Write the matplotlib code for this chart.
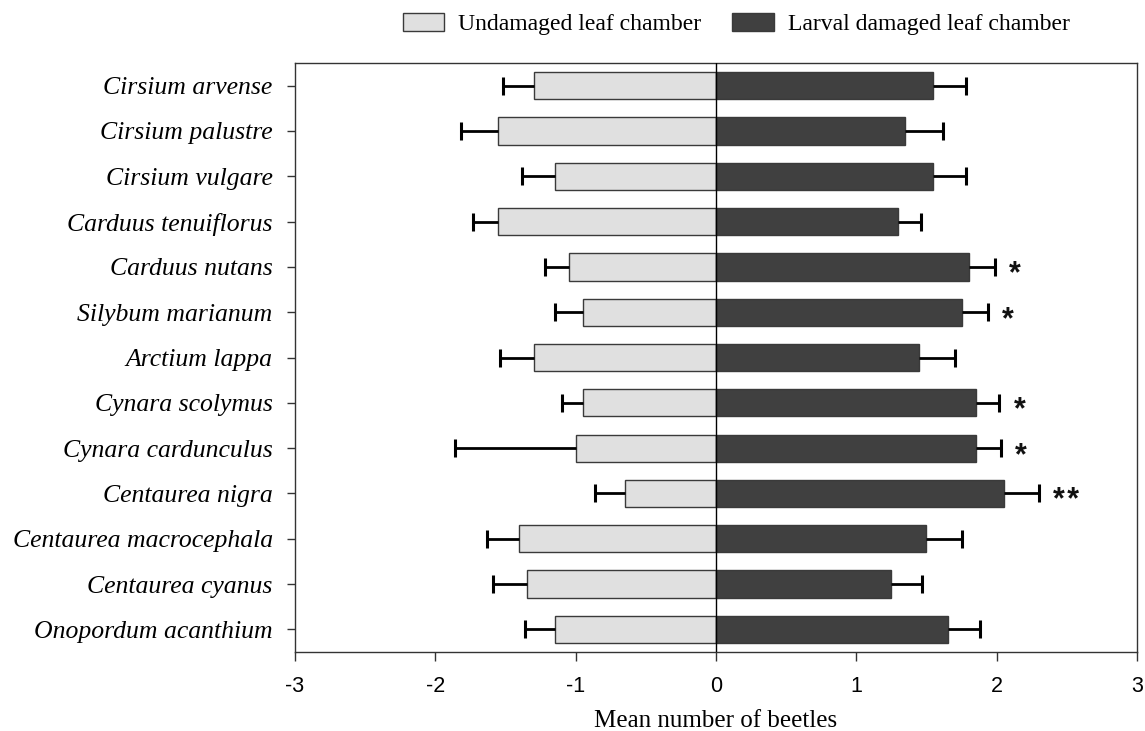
import matplotlib.pyplot as plt
import numpy as np
from matplotlib.patches import Patch

# species, top to bottom
species = ['Cirsium arvense', 'Cirsium palustre', 'Cirsium vulgare',
           'Carduus tenuiflorus', 'Carduus nutans', 'Silybum marianum',
           'Arctium lappa', 'Cynara scolymus', 'Cynara cardunculus',
           'Centaurea nigra', 'Centaurea macrocephala', 'Centaurea cyanus',
           'Onopordum acanthium']

# undamaged chamber (plotted to the left as negatives)
undamaged = [-1.30, -1.55, -1.15, -1.55, -1.05, -0.95, -1.30, -0.95, -1.00,
             -0.65, -1.40, -1.35, -1.15]
undamaged_se = [0.22, 0.27, 0.23, 0.18, 0.17, 0.20, 0.24, 0.15, 0.86,
                0.21, 0.23, 0.24, 0.21]

# larval damaged chamber
damaged = [1.55, 1.35, 1.55, 1.30, 1.80, 1.75, 1.45, 1.85, 1.85,
           2.05, 1.50, 1.25, 1.65]
damaged_se = [0.23, 0.27, 0.23, 0.16, 0.19, 0.19, 0.25, 0.17, 0.18,
              0.25, 0.25, 0.22, 0.23]

signif = ['', '', '', '', '*', '*', '', '*', '*', '*\u200a*', '', '', '']

light = '#e0e0e0'
dark = '#404040'
edge = '#3a3a3a'

serif = ['Liberation Serif', 'DejaVu Serif']
sans = ['Liberation Sans', 'DejaVu Sans']

fig = plt.figure(figsize=(11.45, 7.31), dpi=100)
ax = fig.add_axes([0.2576, 0.108, 0.7354, 0.8058])

y = np.arange(len(species))
und = np.array(undamaged)
dam = np.array(damaged)

ax.barh(y, und, height=0.6, color=light, edgecolor=edge, linewidth=1, zorder=2)
ax.barh(y, dam, height=0.6, color=dark, edgecolor=edge, linewidth=1, zorder=2)

# one-sided error bars pointing away from zero
und_end = und - np.array(undamaged_se)
dam_end = dam + np.array(damaged_se)
ax.hlines(y, und_end, und, color='black', linewidth=2, zorder=3)
ax.hlines(y, dam, dam_end, color='black', linewidth=2, zorder=3)
ax.plot(und_end, y, linestyle='none', marker='|', markersize=13,
        markeredgewidth=2.2, color='black', zorder=3)
ax.plot(dam_end, y, linestyle='none', marker='|', markersize=13,
        markeredgewidth=2.2, color='black', zorder=3)

for yi, xe, s in zip(y, dam_end, signif):
    if s:
        ax.text(xe + 0.1, yi + 0.17, s, ha='left', va='center',
                fontsize=22, fontweight='bold', family=sans, color='#111111')

ax.axvline(0, color='black', linewidth=1, zorder=4)

ax.set_xlim(-3, 3)
ax.set_ylim(len(species) - 0.5, -0.5)
ax.set_xticks([-3, -2, -1, 0, 1, 2, 3])
ax.set_xticklabels(['-3', '-2', '-1', '0', '1', '2', '3'], family=sans, fontsize=15.5)
ax.set_yticks(y)
ax.set_yticklabels(species, family=serif, style='italic', fontsize=18.5)
ax.tick_params(axis='x', direction='out', length=6.5, width=1, pad=11, color='#333333')
ax.tick_params(axis='y', direction='out', length=6, width=1, pad=10, color='#333333')
for sp in ax.spines.values():
    sp.set_color('#333333')
    sp.set_linewidth(1)

ax.set_xlabel('Mean number of beetles', family=serif, fontsize=18, labelpad=9)

handles = [Patch(facecolor=light, edgecolor=edge, linewidth=1),
           Patch(facecolor=dark, edgecolor=edge, linewidth=1)]
fig.legend(handles, ['Undamaged leaf chamber', 'Larval damaged leaf chamber'],
           loc='center', bbox_to_anchor=(0.643, 0.967), ncol=2, frameon=False,
           prop={'family': serif, 'size': 17}, handlelength=1.75, handleheight=0.8,
           columnspacing=1.3, handletextpad=0.6)

fig.savefig('out.png', dpi=100)
